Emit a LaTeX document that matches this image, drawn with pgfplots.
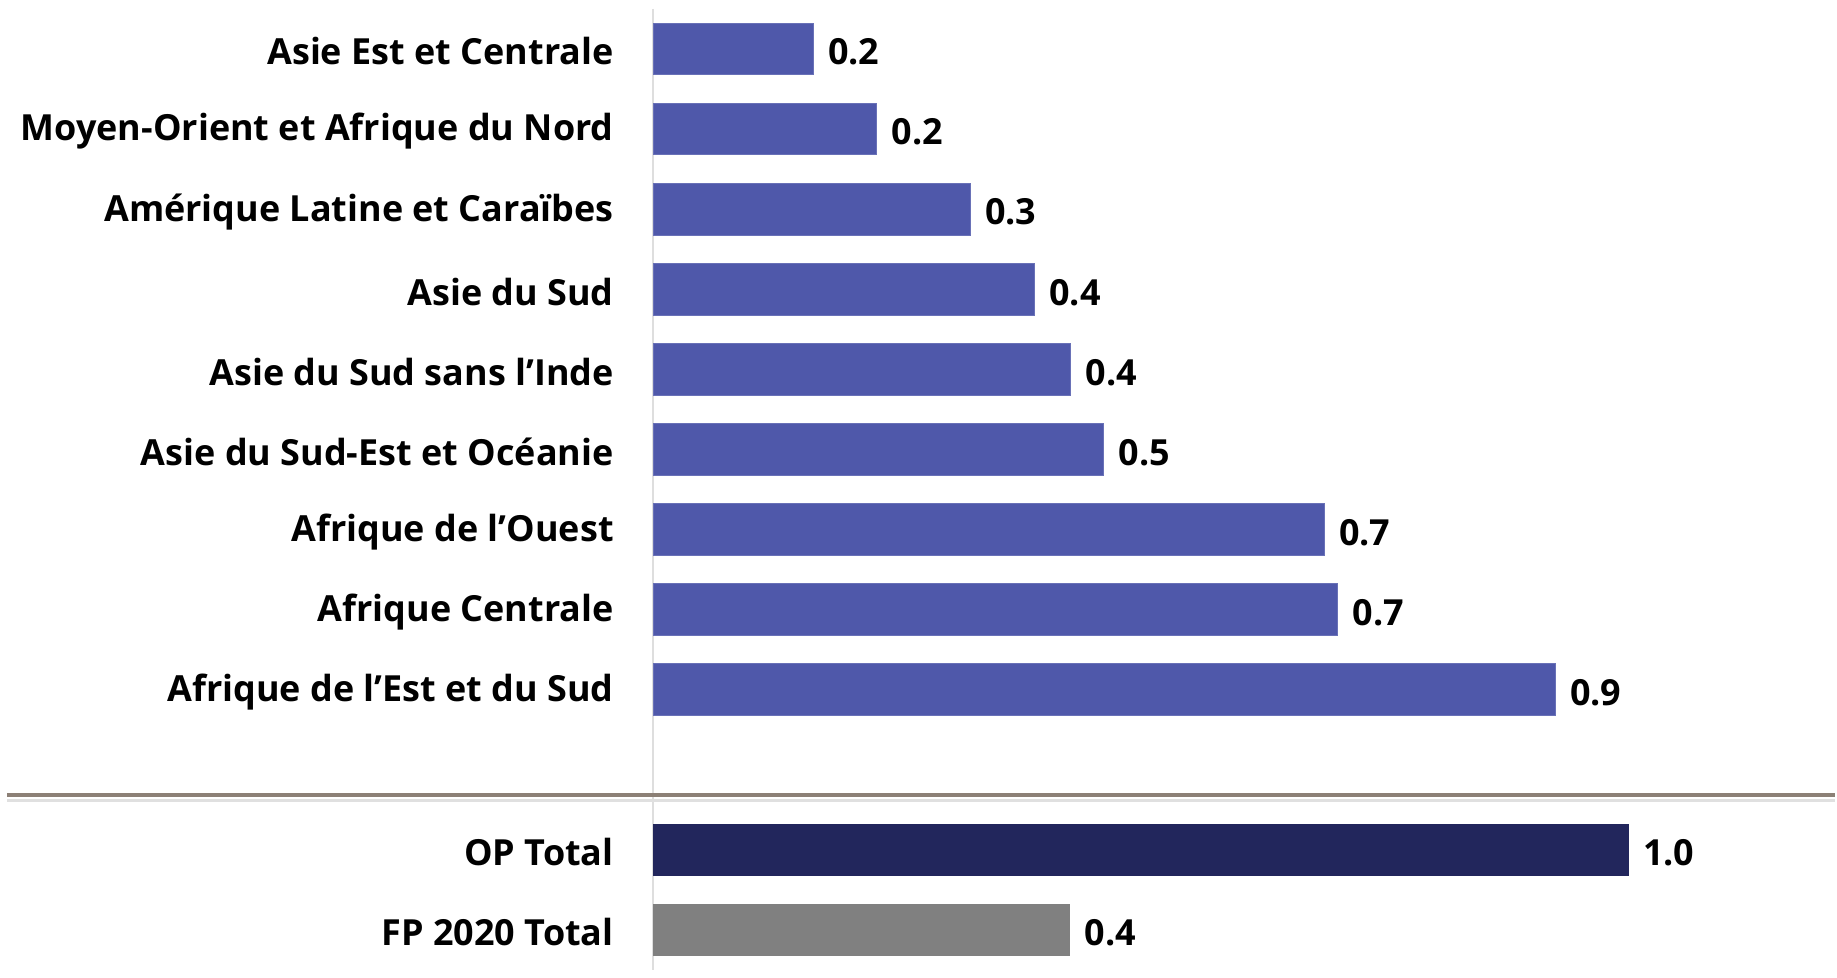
\documentclass[border=0pt]{standalone}
\usepackage{pgfplots}
\pgfplotsset{compat=1.18}
\usepackage{fontspec}
\setmainfont{Open Sans}

\definecolor{barblue}{RGB}{79,88,170}
\definecolor{opnavy}{RGB}{34,38,92}
\definecolor{fpgray}{RGB}{128,128,128}
\definecolor{sepline}{RGB}{140,128,118}

\newcommand{\lblfont}{\bfseries\fontsize{18}{20}\selectfont}

\begin{document}
\begin{tikzpicture}
\begin{axis}[
    name=ax,
    xbar,
    bar shift=0pt,
    bar width=25.8pt,
    width=591.5pt,
    height=481pt,
    scale only axis,
    xmin=0, xmax=1.212,
    ymin=-0.5, ymax=11.5,
    y dir=reverse,
    hide x axis,
    axis y line*=left,
    y axis line style={draw=black!13, line width=0.8pt, -},
    ytick={0,1,2,3,4,5,6,7,8,10,11},
    yticklabels={
        {Asie Est et Centrale},
        {Moyen-Orient et Afrique du Nord},
        {Amérique Latine et Caraïbes},
        {Asie du Sud},
        {Asie du Sud sans l’Inde},
        {Asie du Sud-Est et Océanie},
        {Afrique de l’Ouest},
        {Afrique Centrale},
        {Afrique de l’Est et du Sud\hspace{4.5pt}},
        {OP Total},
        {FP 2020 Total}
    },
    ytick style={draw=none},
    yticklabel style={font=\lblfont, xshift=-12pt, yshift=-1.2pt},
    clip=false,
    point meta=explicit symbolic,
    nodes near coords,
    nodes near coords style={font=\lblfont, anchor=west, xshift=4pt, yshift=-1.5pt},
]

% regions
\addplot[fill=barblue, draw=barblue!85!white] coordinates {
    (0.164,0) [0.2]
    (0.229,1) [0.2]
    (0.325,2) [0.3]
    (0.391,3) [0.4]
    (0.428,4) [0.4]
    (0.462,5) [0.5]
    (0.688,6) [0.7]
    (0.702,7) [0.7]
    (0.925,8) [0.9]
};

% totals
\addplot[fill=opnavy, draw=opnavy] coordinates {(1.0,10) [1.0]};
\addplot[fill=fpgray, draw=fpgray] coordinates {(0.427,11) [0.4]};

% separator line with shadow
\draw[black!12, line width=1.6pt] ([yshift=-2.8pt]axis cs:-0.663,9.32) -- ([yshift=-2.8pt]axis cs:1.212,9.32);
\draw[sepline, line width=2.2pt] (axis cs:-0.663,9.32) -- (axis cs:1.212,9.32);
\end{axis}
\path ([xshift=-327pt,yshift=4.5pt]ax.north west) rectangle ([yshift=-4pt]ax.south east);
\end{tikzpicture}
\end{document}
